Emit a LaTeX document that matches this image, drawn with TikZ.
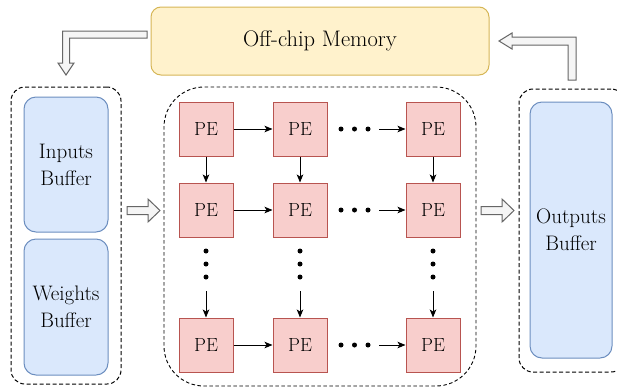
\documentclass[tikz,border=0pt]{standalone}
\usepackage{fontspec}
\usetikzlibrary{arrows.meta}

\definecolor{memfill}{HTML}{FFF2CC}
\definecolor{memdraw}{HTML}{D6B656}
\definecolor{buffill}{HTML}{DAE8FC}
\definecolor{bufdraw}{HTML}{6C8EBF}
\definecolor{pefill}{HTML}{F8CECC}
\definecolor{pedraw}{HTML}{B85450}
\definecolor{flowfill}{HTML}{F5F5F5}
\definecolor{flowdraw}{HTML}{666666}

\begin{document}
\begin{tikzpicture}[x=1pt,y=-1pt,
  box/.style={draw, rectangle, inner sep=0pt, line width=1pt},
  mem/.style={box, fill=memfill, draw=memdraw, rounded corners=10pt,
    minimum width=338pt, minimum height=68pt, font=\fontsize{22.5}{26}\selectfont},
  buf/.style={box, fill=buffill, draw=bufdraw, rounded corners=12pt,
    align=center, font=\fontsize{21}{27}\selectfont},
  pe/.style={box, fill=pefill, draw=pedraw, minimum size=54pt,
    font=\fontsize{19}{23}\selectfont},
  group/.style={draw, rectangle, inner sep=0pt, line width=1pt,
    dash pattern=on 4pt off 2.5pt},
  dotc/.style={circle, fill=black, inner sep=0pt, minimum size=5pt},
  link/.style={line width=1pt, -{Stealth[length=8pt,width=6.5pt,inset=2pt]}},
  flow/.style={fill=flowfill, draw=flowdraw, line width=1pt, line join=miter}
]
\useasboundingbox (0,0) rectangle (617,386);

% dashed groups
\node[group, rounded corners=14pt, minimum width=110pt, minimum height=297pt] (gin) at (66,235.5) {};
\node[group, rounded corners=40pt, minimum width=312pt, minimum height=299pt,
  line width=0.9pt, dash pattern=on 3.5pt off 2.5pt] (gpe) at (320,236.5) {};
\node[group, rounded corners=14pt, minimum width=106pt, minimum height=283pt] (gout) at (572,230.5) {};

% memory and buffers
\node[mem] (mem) at (320,41) {Off-chip Memory};
\node[buf, minimum width=84pt, minimum height=135pt] (inb) at (66,164.5) {Inputs\\Buffer};
\node[buf, minimum width=84pt, minimum height=136pt] (wb) at (66,307) {Weights\\Buffer};
\node[buf, minimum width=82pt, minimum height=256pt] (outb) at (571,230) {Outputs\\Buffer};

% PE array
\foreach \r/\y in {1/129,2/210,3/345}{
  \foreach \c/\x in {1/206,2/300,3/433}{
    \node[pe] (p\r\c) at (\x,\y) {PE};
  }
}

% horizontal links
\foreach \r/\y in {1/129,2/210,3/345}{
  \draw[link] (p\r1) -- (p\r2);
  \node[dotc] (r\r a) at (341,\y) {};
  \node[dotc] (r\r b) at (354.5,\y) {};
  \node[dotc] (r\r c) at (368,\y) {};
  \coordinate (r\r s) at (379,\y);
  \draw[link] (r\r s) -- (p\r3);
}

% vertical links
\foreach \c/\x in {1/206,2/300,3/433}{
  \draw[link] (p1\c) -- (p2\c);
  \node[dotc] (c\c a) at (\x,251) {};
  \node[dotc] (c\c b) at (\x,264) {};
  \node[dotc] (c\c c) at (\x,277) {};
  \coordinate (c\c s) at (\x,291);
  \draw[link] (c\c s) -- (p3\c);
}

% data-flow block arrows
\draw[flow] (147,31) -- (62.5,31) -- (62.5,63) -- (58,63) -- (66,75)
  -- (74,63) -- (69.5,63) -- (69.5,38) -- (147,38) -- cycle;
\draw[flow] (568,80) -- (568,45) -- (512,45) -- (512,49) -- (499,41)
  -- (512,33) -- (512,37) -- (576,37) -- (576,80) -- cycle;
\draw[flow] (127,206.5) -- (148,206.5) -- (148,199) -- (160,210.5) -- (148,222)
  -- (148,214.5) -- (127,214.5) -- cycle;
\draw[flow] (481,206.5) -- (502,206.5) -- (502,199) -- (514,210.5) -- (502,222)
  -- (502,214.5) -- (481,214.5) -- cycle;
\end{tikzpicture}
\end{document}
